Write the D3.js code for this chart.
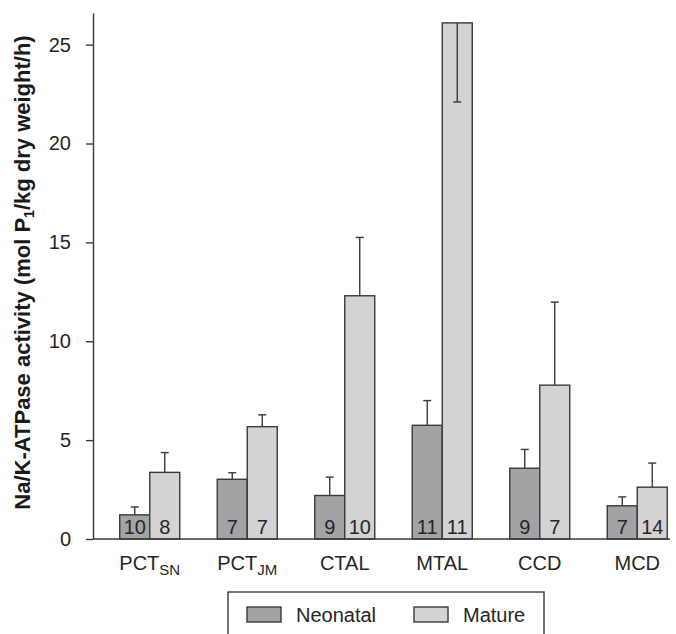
<!DOCTYPE html>
<html><head><meta charset="utf-8">
<script src="https://cdn.jsdelivr.net/npm/d3@7"></script>
<style>
html,body{margin:0;padding:0;background:#fff;}
svg{display:block;font-family:"Liberation Sans",Arial,Helvetica,sans-serif;}
</style></head>
<body>
<svg id="chart" width="676" height="634"></svg>
<script>
// Data
const segments = ["PCT_SN","PCT_JM","CTAL","MTAL","CCD","MCD"];
const segmentMain = ["PCT","PCT","CTAL","MTAL","CCD","MCD"];
const segmentSub  = ["SN","JM","","","",""];
const series = ["Neonatal","Mature"];
const neonatalMean = [1.22, 3.02, 2.2, 5.75, 3.58, 1.68];
const neonatalSE   = [0.40, 0.33, 0.93, 1.25, 0.95, 0.45];
const matureMean   = [3.37, 5.68, 12.3, 26.1, 7.78, 2.62];
const matureSE     = [1.00, 0.60, 2.95, 4.0, 4.2, 1.22];
const neonatalN    = [10, 7, 9, 11, 9, 7];
const matureN      = [8, 7, 10, 11, 7, 14];
const yTicks = [0, 5, 10, 15, 20, 25];

const colors = {Neonatal:"#a3a3a6", Mature:"#d3d3d5"};
const ink = "#262626";
const strokeCol = "#3a3a3a";

const svg = d3.select("#chart");
const y = d3.scaleLinear().domain([0, 26.6]).range([539, 13]);
const pIn = 1 - 60/97.5;
const x = d3.scaleBand().domain(segments).range([101, 686]).paddingInner(pIn).paddingOuter(pIn/2);
const xs = d3.scaleBand().domain(series).range([0, x.bandwidth()]);

const rows = [];
segments.forEach((s,i)=>{
  rows.push({seg:s, ser:"Neonatal", mean:neonatalMean[i], se:neonatalSE[i], n:neonatalN[i]});
  rows.push({seg:s, ser:"Mature", mean:matureMean[i], se:matureSE[i], n:matureN[i]});
});

// Y axis
const yAxis = d3.axisLeft(y).tickValues(yTicks).tickSize(7).tickSizeOuter(0).tickPadding(15);
const gy = svg.append("g").attr("transform","translate(93,0)").call(yAxis);
gy.select(".domain").attr("stroke", strokeCol).attr("stroke-width",1.4);
gy.selectAll(".tick line").attr("stroke", strokeCol).attr("stroke-width",1.4);
gy.selectAll(".tick text").attr("font-size",20).attr("fill",ink).attr("font-family","Liberation Sans, Arial, sans-serif");

// Bars
const g = svg.append("g");
g.selectAll("rect.bar").data(rows).join("rect")
  .attr("class","bar")
  .attr("x", d=>x(d.seg)+xs(d.ser))
  .attr("width", xs.bandwidth())
  .attr("y", d=>y(d.mean))
  .attr("height", d=>y(0)-y(d.mean))
  .attr("fill", d=>colors[d.ser])
  .attr("stroke", strokeCol).attr("stroke-width",1.4);

// Error bars
const yMax = y.domain()[1];
rows.forEach(d=>{
  const cx = x(d.seg)+xs(d.ser)+xs.bandwidth()/2;
  const end = (d.mean + d.se > yMax) ? d.mean - d.se : d.mean + d.se;
  g.append("line").attr("x1",cx).attr("x2",cx).attr("y1",y(d.mean)).attr("y2",y(end))
    .attr("stroke",strokeCol).attr("stroke-width",1.4);
  g.append("line").attr("x1",cx-4).attr("x2",cx+4).attr("y1",y(end)).attr("y2",y(end))
    .attr("stroke",strokeCol).attr("stroke-width",1.4);
});

// N labels
g.selectAll("text.n").data(rows).join("text")
  .attr("class","n")
  .attr("x", d=>x(d.seg)+xs(d.ser)+xs.bandwidth()/2)
  .attr("y", 534)
  .attr("text-anchor","middle")
  .attr("font-size",20).attr("fill",ink)
  .text(d=>d.n);

// Baseline
svg.append("line").attr("x1",93).attr("x2",670).attr("y1",y(0)).attr("y2",y(0))
  .attr("stroke",strokeCol).attr("stroke-width",1.4);

// X labels
segments.forEach((s,i)=>{
  const cx = x(s)+x.bandwidth()/2;
  const t = svg.append("text").attr("x",cx).attr("y",570).attr("text-anchor","middle")
    .attr("font-size",20).attr("fill",ink);
  t.append("tspan").text(segmentMain[i]);
  if (segmentSub[i]) t.append("tspan").attr("font-size",15).attr("dy",5).text(segmentSub[i]);
});

// Y title
const yt = svg.append("text").attr("transform","translate(30,"+((503+42)/2)+") rotate(-90)")
  .attr("text-anchor","middle").attr("font-size",22).attr("font-weight","bold").attr("fill","#1a1a1a");
yt.append("tspan").text("Na/K-ATPase activity (mol P");
yt.append("tspan").attr("font-size",14).attr("dy",4).text("1");
yt.append("tspan").attr("dy",-4).text("/kg dry weight/h)");

// Legend
svg.append("rect").attr("x",228).attr("y",592).attr("width",316).attr("height",60)
  .attr("fill","#fff").attr("stroke",strokeCol).attr("stroke-width",1.4);
const legX = [247, 414];
const legTX = [296, 463];
series.forEach((s,i)=>{
  svg.append("rect").attr("x",legX[i]).attr("y",607).attr("width",34).attr("height",15)
    .attr("fill",colors[s]).attr("stroke",strokeCol).attr("stroke-width",1.4);
  svg.append("text").attr("x",legTX[i]).attr("y",622).attr("font-size",20).attr("fill",ink).text(s);
});
</script>
</body></html>
